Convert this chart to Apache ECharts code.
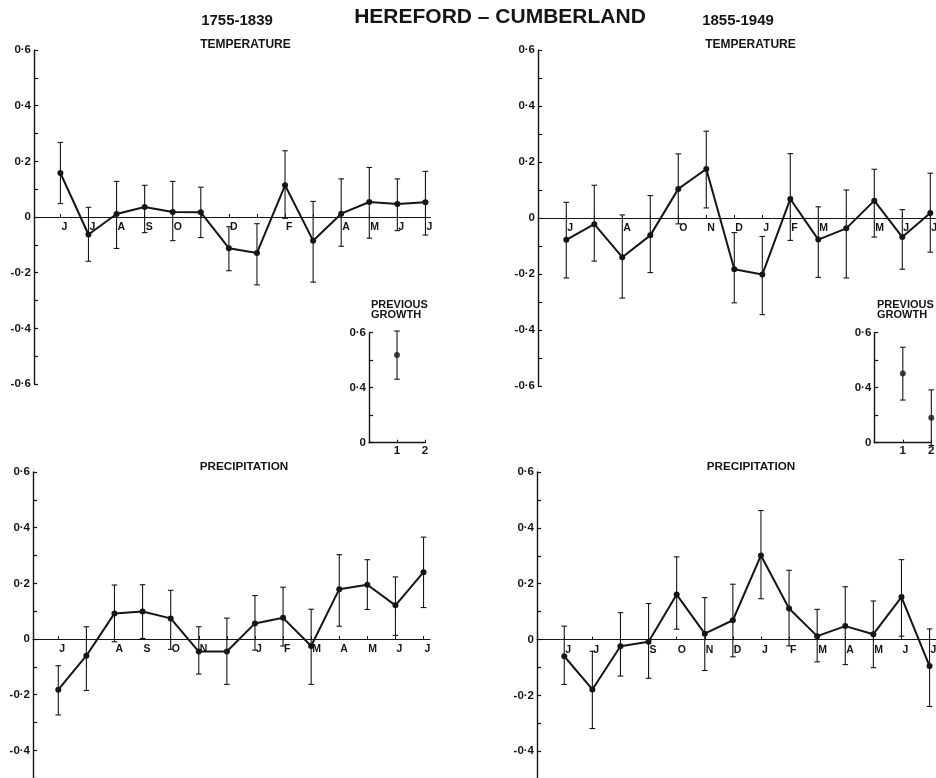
<!DOCTYPE html>
<html><head><meta charset="utf-8">
<script src="https://cdn.jsdelivr.net/npm/echarts@6/dist/echarts.min.js"></script>
<style>html,body{margin:0;padding:0;background:#fff}#c{width:936px;height:778px}</style>
</head><body><div id="c"></div>
<script>
// ---- data ----
const monthIdx = [0,1,2,3,4,5,6,7,8,9,10,11,12,13]; // June (prev. year) .. July
const labelsTempEarly = ["J","J","A","S","O","","D","","F","","A","M","J","J"];
const labelsTempLate  = ["J","","A","","O","N","D","J","F","M","","M","J","J"];
const labelsPrecEarly = ["J","","A","S","O","N","","J","F","M","A","M","J","J"];
const labelsPrecLate  = ["J","J","","S","O","N","D","J","F","M","A","M","J","J"];

const tempEarly   = [0.158,-0.063,0.011,0.036,0.018,0.017,-0.112,-0.129,0.114,-0.085,0.012,0.054,0.047,0.053];
const tempEarlyLo = [0.048,-0.159,-0.113,-0.056,-0.085,-0.074,-0.193,-0.244,-0.005,-0.234,-0.105,-0.076,-0.049,-0.065];
const tempEarlyHi = [0.268,0.035,0.128,0.114,0.128,0.107,-0.035,-0.024,0.238,0.056,0.137,0.178,0.137,0.164];

const tempLate   = [-0.078,-0.022,-0.140,-0.062,0.104,0.175,-0.183,-0.202,0.068,-0.077,-0.037,0.062,-0.068,0.018];
const tempLateLo = [-0.214,-0.154,-0.286,-0.195,-0.021,0.036,-0.303,-0.345,-0.080,-0.212,-0.214,-0.068,-0.183,-0.122];
const tempLateHi = [0.056,0.117,0.011,0.080,0.229,0.310,-0.052,-0.066,0.230,0.040,0.100,0.174,0.030,0.160];

const precEarly   = [-0.182,-0.060,0.092,0.099,0.074,-0.045,-0.045,0.056,0.076,-0.025,0.179,0.195,0.121,0.240];
const precEarlyLo = [-0.273,-0.185,-0.010,0.002,-0.037,-0.126,-0.163,-0.040,-0.025,-0.163,0.046,0.106,0.013,0.113];
const precEarlyHi = [-0.096,0.044,0.194,0.195,0.175,0.044,0.075,0.156,0.186,0.107,0.303,0.285,0.223,0.366];

const precLate   = [-0.060,-0.179,-0.024,-0.008,0.161,0.021,0.069,0.301,0.111,0.012,0.048,0.019,0.152,-0.095];
const precLateLo = [-0.161,-0.319,-0.131,-0.139,0.037,-0.111,-0.062,0.146,-0.023,-0.080,-0.090,-0.101,0.012,-0.240];
const precLateHi = [0.048,-0.042,0.096,0.129,0.296,0.150,0.198,0.462,0.248,0.108,0.189,0.138,0.286,0.038];

// previous growth insets (lag 1, 2); inset y axis is broken: its bottom "0" sits at the 0.2 level
const growthLagsEarly = [1];
const growthEarly   = [0.519];
const growthEarlyLo = [0.431];
const growthEarlyHi = [0.606];
const growthLagsLate = [1,2];
const growthLate   = [0.452,0.291];
const growthLateLo = [0.355,0.190];
const growthLateHi = [0.547,0.392];

const mainTickValues = [-0.6,-0.4,-0.2,0,0.2,0.4,0.6];
const mainTickLabels = ["-0·6","-0·4","-0·2","0","0·2","0·4","0·6"];
const insetTickValues = [0.2,0.4,0.6];
const insetTickLabels = ["0","0·4","0·6"];
const lagTickValues = [1,2];
const lagTickLabels = ["1","2"];

// ---- chart ----
const INK = '#151515';
const FONT = 'Liberation Sans';
function lookup(vals, labs){
  return v => { const i = vals.findIndex(t => Math.abs(t - v) < 1e-6); return i >= 0 ? labs[i] : ''; };
}
function errItem(params, api){
  const x = api.value(0), lo = api.value(1), hi = api.value(2);
  const a = api.coord([x, lo]), b = api.coord([x, hi]);
  const w = 2.8, st = {stroke: INK, lineWidth: 1.1};
  return {type:'group', children:[
    {type:'line', shape:{x1:a[0],y1:a[1],x2:b[0],y2:b[1]}, style:st},
    {type:'line', shape:{x1:b[0]-w,y1:b[1],x2:b[0]+w,y2:b[1]}, style:st},
    {type:'line', shape:{x1:a[0]-w,y1:a[1],x2:a[0]+w,y2:a[1]}, style:st}
  ]};
}
const panels = [
  {grid:{left:34, top:50, width:396.5, height:334}, xmin:-0.94, xmax:13.18, labels:labelsTempEarly, v:tempEarly, lo:tempEarlyLo, hi:tempEarlyHi},
  {grid:{left:538, top:50, width:400.7, height:336}, xmin:-1.01, xmax:13.3, labels:labelsTempLate, v:tempLate, lo:tempLateLo, hi:tempLateHi},
  {grid:{left:33, top:472, width:397, height:334}, xmin:-0.9, xmax:13.23, labels:labelsPrecEarly, v:precEarly, lo:precEarlyLo, hi:precEarlyHi},
  {grid:{left:537, top:472, width:401, height:335}, xmin:-0.97, xmax:13.3, labels:labelsPrecLate, v:precLate, lo:precLateLo, hi:precLateHi}
];
const insets = [
  {grid:{left:369, top:332.7, width:56, height:110}, lags:growthLagsEarly, v:growthEarly, lo:growthEarlyLo, hi:growthEarlyHi},
  {grid:{left:874.3, top:332.7, width:57, height:110}, lags:growthLagsLate, v:growthLate, lo:growthLateLo, hi:growthLateHi}
];

const grid = [], xAxis = [], yAxis = [], series = [];
const lblStyle = {color: INK, fontFamily: FONT, fontWeight: 'bold', fontSize: 10.5};
const yLblStyle = {color: INK, fontFamily: FONT, fontWeight: 'bold', fontSize: 11.5};
panels.forEach((p, i) => {
  grid.push(Object.assign({outerBoundsMode:'none', containLabel:false}, p.grid));
  xAxis.push({type:'value', gridIndex:i, min:p.xmin, max:p.xmax, position:'bottom',
    offset: -p.grid.height / 2,  // axis drawn through y = 0 (middle of the -0.6..0.6 range)
    axisLine:{show:true, onZero:false, lineStyle:{color:INK, width:1.1}},
    axisTick:{show:true, inside:true, length:3, customValues:monthIdx, lineStyle:{color:INK, width:1}},
    axisLabel:Object.assign({customValues:monthIdx, margin:5, align:'left', padding:[0,0,0,1],
      formatter: v => p.labels[Math.round(v)] || ''}, lblStyle),
    splitLine:{show:false}});
  yAxis.push({type:'value', gridIndex:i, min:-0.6, max:0.6, interval:0.1,
    axisLine:{show:true, onZero:false, lineStyle:{color:INK, width:1.4}},
    axisTick:{show:true, inside:true, length:4, lineStyle:{color:INK, width:1.2}},
    axisLabel:Object.assign({customValues:mainTickValues, margin:3, formatter:lookup(mainTickValues, mainTickLabels)}, yLblStyle),
    splitLine:{show:false}});
  series.push({type:'custom', xAxisIndex:i, yAxisIndex:i, renderItem:errItem, clip:false,
    data: monthIdx.map(k => [k, p.lo[k], p.hi[k]]), z:2, silent:true});
  series.push({type:'line', xAxisIndex:i, yAxisIndex:i, data: monthIdx.map(k => [k, p.v[k]]),
    symbol:'circle', symbolSize:6, showSymbol:true, itemStyle:{color:INK}, lineStyle:{color:INK, width:2}, z:3, silent:true});
});
insets.forEach((p, j) => {
  const i = panels.length + j;
  grid.push(Object.assign({outerBoundsMode:'none', containLabel:false}, p.grid));
  xAxis.push({type:'value', gridIndex:i, min:0, max:2,
    axisLine:{show:true, onZero:false, lineStyle:{color:INK, width:1.3}},
    axisTick:{show:true, inside:true, length:3, customValues:lagTickValues, lineStyle:{color:INK, width:1}},
    axisLabel:Object.assign({customValues:lagTickValues, margin:2, formatter:lookup(lagTickValues, lagTickLabels)}, yLblStyle),
    splitLine:{show:false}});
  yAxis.push({type:'value', gridIndex:i, min:0.2, max:0.6, interval:0.1,
    axisLine:{show:true, onZero:false, lineStyle:{color:INK, width:1.4}},
    axisTick:{show:true, inside:true, length:4, lineStyle:{color:INK, width:1.2}},
    axisLabel:Object.assign({customValues:insetTickValues, margin:3, formatter:lookup(insetTickValues, insetTickLabels)}, yLblStyle),
    splitLine:{show:false}});
  series.push({type:'custom', xAxisIndex:i, yAxisIndex:i, renderItem:errItem, clip:false,
    data: p.lags.map((l, k) => [l, p.lo[k], p.hi[k]]), z:2, silent:true});
  series.push({type:'scatter', xAxisIndex:i, yAxisIndex:i, data: p.lags.map((l, k) => [l, p.v[k]]),
    symbol:'circle', symbolSize:6, itemStyle:{color:INK}, z:3, silent:true});
});

function txt(x, y, text, size, align){
  return {type:'text', x:x, y:y, silent:true,
    style:{text:text, fill:INK, font:'bold ' + size + 'px "' + FONT + '"', textAlign:align || 'center', textVerticalAlign:'bottom'}};
}
const graphic = [
  txt(500, 28, 'HEREFORD – CUMBERLAND', 21),
  txt(237, 28, '1755-1839', 15),
  txt(738, 28, '1855-1949', 15),
  txt(245.5, 51, 'TEMPERATURE', 12),
  txt(750.5, 51, 'TEMPERATURE', 12),
  txt(244, 473, 'PRECIPITATION', 11.7),
  txt(751, 473, 'PRECIPITATION', 11.7),
  txt(371, 310, 'PREVIOUS', 11, 'left'),
  txt(371, 320, 'GROWTH', 11, 'left'),
  txt(877, 310, 'PREVIOUS', 11, 'left'),
  txt(877, 320, 'GROWTH', 11, 'left')
];

const chart = echarts.init(document.getElementById('c'), null, {renderer:'canvas'});
chart.setOption({backgroundColor:'#fff', animation:false, grid, xAxis, yAxis, series, graphic});
</script></body></html>
